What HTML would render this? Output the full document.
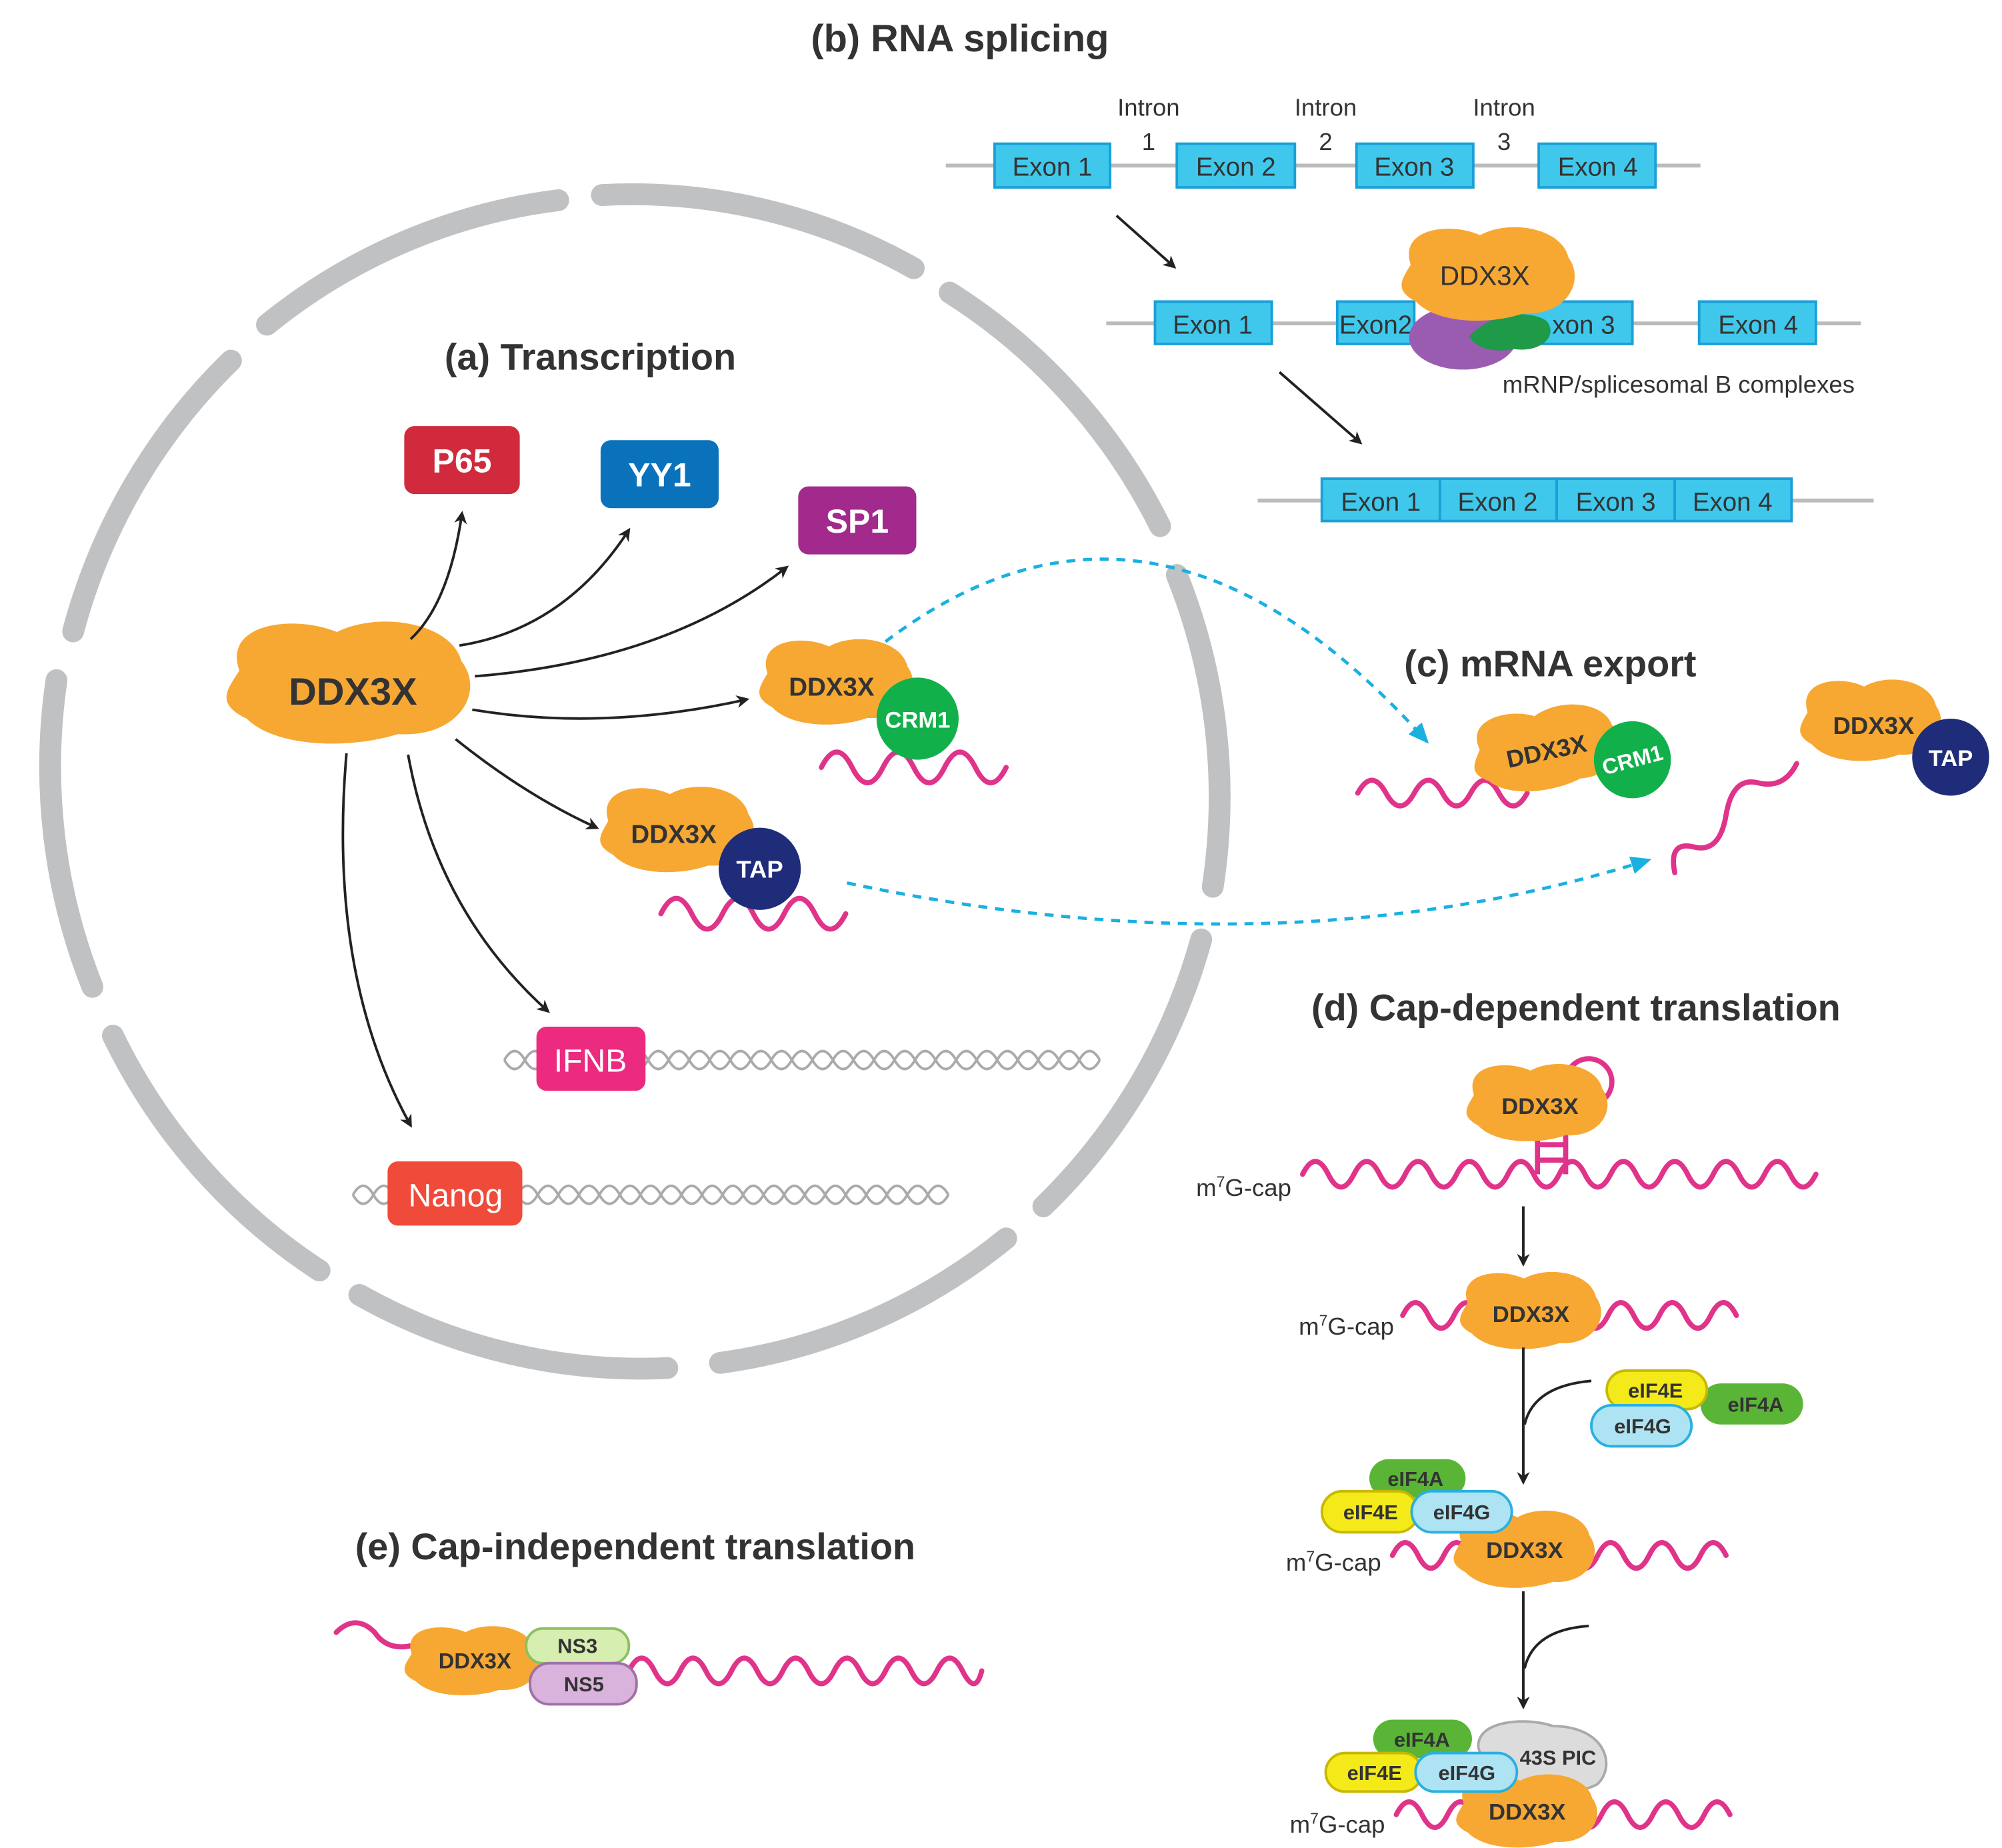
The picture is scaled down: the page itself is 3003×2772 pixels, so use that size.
<!DOCTYPE html>
<html><head><meta charset="utf-8"><style>
html,body{margin:0;padding:0;background:#fff}
svg{display:block}
text{font-family:"Liberation Sans",sans-serif}
</style></head><body>
<svg width="3003" height="2772" viewBox="0 0 1560 1440" xmlns="http://www.w3.org/2000/svg">
<defs>
<marker id="ah" markerWidth="10" markerHeight="10" refX="8" refY="5" orient="auto" markerUnits="userSpaceOnUse" viewBox="0 0 10 10"><path d="M0,0 L10,5 L0,10 L3,5Z" fill="#222"/></marker>
<marker id="bh" markerWidth="16" markerHeight="14" refX="14" refY="7" orient="auto" markerUnits="userSpaceOnUse" viewBox="0 0 16 14"><path d="M0,0 L16,7 L0,14 Z" fill="#1ab0e0"/></marker>
<path id="blob" d="M-45,-5 C-52,-30 -22,-34 -5,-25 C12,-36 42,-30 46,-10 C56,6 45,30 20,28 C0,36 -30,35 -42,20 C-55,12 -50,5 -45,-5Z" fill="#f7a833"/>
</defs>
<rect width="1560" height="1440" fill="#fff"/>

<!-- nucleus -->
<g fill="none" stroke="#bfc1c3" stroke-width="17" stroke-linecap="round">
<path d="M208,253 A452 458 0 0 1 435,156"/>
<path d="M469,152 A452 458 0 0 1 712,209"/>
<path d="M740,228 A452 458 0 0 1 904,410"/>
<path d="M917,448 A452 458 0 0 1 945,691"/>
<path d="M936,732 A452 458 0 0 1 813,940"/>
<path d="M784,965 A452 458 0 0 1 561,1062"/>
<path d="M520,1066 A452 458 0 0 1 280,1009"/>
<path d="M249,990 A452 458 0 0 1 88,807"/>
<path d="M72,769 A452 458 0 0 1 44,530"/>
<path d="M57,492 A452 458 0 0 1 180,281"/>
</g>

<!-- titles -->
<text x="748" y="40" font-size="30" font-weight="bold" text-anchor="middle" fill="#333">(b) RNA splicing</text>
<text x="460" y="288" font-size="29" font-weight="bold" text-anchor="middle" fill="#333">(a) Transcription</text>
<text x="1208" y="527" font-size="29" font-weight="bold" text-anchor="middle" fill="#333">(c) mRNA export</text>
<text x="1228" y="795" font-size="29" font-weight="bold" text-anchor="middle" fill="#333">(d) Cap-dependent translation</text>
<text x="495" y="1215" font-size="29" font-weight="bold" text-anchor="middle" fill="#333">(e) Cap-independent translation</text>

<!-- splicing -->
<g font-size="20" fill="#333" text-anchor="middle">
<line x1="737" y1="129" x2="1325" y2="129" stroke="#bbb" stroke-width="3"/>
<g fill="#3fc8ec" stroke="#1aa0d8" stroke-width="2">
<rect x="775" y="112" width="90" height="34"/><rect x="917" y="112" width="92" height="34"/><rect x="1057" y="112" width="91" height="34"/><rect x="1199" y="112" width="91" height="34"/>
</g>
<text x="820" y="137">Exon 1</text><text x="963" y="137">Exon 2</text><text x="1102" y="137">Exon 3</text><text x="1245" y="137">Exon 4</text>
<text x="895" y="90" font-size="19">Intron</text><text x="895" y="117" font-size="19">1</text>
<text x="1033" y="90" font-size="19">Intron</text><text x="1033" y="117" font-size="19">2</text>
<text x="1172" y="90" font-size="19">Intron</text><text x="1172" y="117" font-size="19">3</text>

<line x1="862" y1="252" x2="1450" y2="252" stroke="#bbb" stroke-width="3"/>
<g fill="#3fc8ec" stroke="#1aa0d8" stroke-width="2">
<rect x="900" y="235" width="91" height="33"/><rect x="1042" y="235" width="60" height="33"/><rect x="1180" y="235" width="92" height="33"/><rect x="1324" y="235" width="91" height="33"/>
</g>
<text x="945" y="260">Exon 1</text><text x="1072" y="260">Exon2</text><text x="1234" y="260">xon 3</text><text x="1370" y="260">Exon 4</text>
<ellipse cx="1140" cy="263" rx="42" ry="25" fill="#9a5cb0"/>
<path d="M1145,262 C1160,245 1190,240 1205,250 C1215,262 1200,275 1180,272 C1165,275 1150,272 1145,262Z" fill="#1e9a48"/>
<use href="#blob" transform="translate(1160,212) scale(1.35,1.15)"/>
<text x="1157" y="222" font-size="21">DDX3X</text>
<text x="1308" y="306" font-size="19">mRNP/splicesomal B complexes</text>

<line x1="980" y1="390" x2="1460" y2="390" stroke="#bbb" stroke-width="3"/>
<g fill="#3fc8ec" stroke="#1aa0d8" stroke-width="2">
<rect x="1030" y="373" width="92" height="33"/><rect x="1122" y="373" width="91" height="33"/><rect x="1213" y="373" width="92" height="33"/><rect x="1305" y="373" width="91" height="33"/>
</g>
<text x="1076" y="398">Exon 1</text><text x="1167" y="398">Exon 2</text><text x="1259" y="398">Exon 3</text><text x="1350" y="398">Exon 4</text>
</g>
<line x1="870" y1="168" x2="915" y2="208" stroke="#222" stroke-width="2" marker-end="url(#ah)"/>
<line x1="997" y1="290" x2="1060" y2="345" stroke="#222" stroke-width="2" marker-end="url(#ah)"/>

<!-- transcription -->
<rect x="315" y="332" width="90" height="53" rx="8" fill="#d02a3c"/><text x="360" y="368" font-size="26" font-weight="bold" fill="#fff" text-anchor="middle">P65</text>
<rect x="468" y="343" width="92" height="53" rx="8" fill="#0a72bb"/><text x="514" y="379" font-size="26" font-weight="bold" fill="#fff" text-anchor="middle">YY1</text>
<rect x="622" y="379" width="92" height="53" rx="8" fill="#a12a8c"/><text x="668" y="415" font-size="26" font-weight="bold" fill="#fff" text-anchor="middle">SP1</text>

<use href="#blob" transform="translate(272,530) scale(1.9,1.5)"/>
<text x="275" y="549" font-size="30" font-weight="bold" fill="#333" text-anchor="middle">DDX3X</text>

<g fill="none" stroke="#222" stroke-width="2" marker-end="url(#ah)">
<path d="M320,498 Q350,470 360,400"/>
<path d="M358,503 Q440,490 490,413"/>
<path d="M370,527 Q520,515 613,442"/>
<path d="M368,553 Q470,570 582,545"/>
<path d="M355,576 Q410,620 465,645"/>
<path d="M318,588 Q340,710 427,788"/>
<path d="M270,587 Q255,760 320,877"/>
</g>

<!-- dna + IFNB -->
<g fill="none" stroke="#aaa" stroke-width="2">
<path d="M393,826 q8,-14 16,0 t16,0 t16,0 t16,0 t16,0 t16,0 t16,0 t16,0 t16,0 t16,0 t16,0 t16,0 t16,0 t16,0 t16,0 t16,0 t16,0 t16,0 t16,0 t16,0 t16,0 t16,0 t16,0 t16,0 t16,0 t16,0 t16,0 t16,0 t16,0"/>
<path d="M393,826 q8,14 16,0 t16,0 t16,0 t16,0 t16,0 t16,0 t16,0 t16,0 t16,0 t16,0 t16,0 t16,0 t16,0 t16,0 t16,0 t16,0 t16,0 t16,0 t16,0 t16,0 t16,0 t16,0 t16,0 t16,0 t16,0 t16,0 t16,0 t16,0 t16,0"/>
<path d="M275,931 q8,-14 16,0 t16,0 t16,0 t16,0 t16,0 t16,0 t16,0 t16,0 t16,0 t16,0 t16,0 t16,0 t16,0 t16,0 t16,0 t16,0 t16,0 t16,0 t16,0 t16,0 t16,0 t16,0 t16,0 t16,0 t16,0 t16,0 t16,0 t16,0 t16,0"/>
<path d="M275,931 q8,14 16,0 t16,0 t16,0 t16,0 t16,0 t16,0 t16,0 t16,0 t16,0 t16,0 t16,0 t16,0 t16,0 t16,0 t16,0 t16,0 t16,0 t16,0 t16,0 t16,0 t16,0 t16,0 t16,0 t16,0 t16,0 t16,0 t16,0 t16,0 t16,0"/>
</g>
<rect x="418" y="800" width="85" height="50" rx="8" fill="#ec2a7f"/><text x="460" y="835" font-size="25" fill="#fff" text-anchor="middle">IFNB</text>
<rect x="302" y="905" width="105" height="50" rx="8" fill="#f04a3a"/><text x="355" y="940" font-size="25" fill="#fff" text-anchor="middle">Nanog</text>

<!-- pink waves -->
<g fill="none" stroke="#e0338a" stroke-width="4" stroke-linecap="round">
<path d="M640,598 q12,-24 24,0 t24,0 t24,0 t24,0 t24,0 t24,0"/>
<path d="M515,712 q12,-24 24,0 t24,0 t24,0 t24,0 t24,0 t24,0"/>
<path d="M1058,618 q11,-20 22,0 t22,0 t22,0 t22,0 t22,0 t22,0"/>
<path d="M1305,680 q-5,-25 15,-20 t25,-25 t25,-25 t30,-15"/>
<path d="M1015,915 q10,-20 20,0 t20,0 t20,0 t20,0 t20,0 t20,0 t20,0 t20,0 t20,0 t20,0 t20,0 t20,0 t20,0 t20,0 t20,0 t20,0 t20,0 t20,0 t20,0 t20,0"/>
<path d="M1093,1025 q10,-20 20,0 t20,0 t20,0 t20,0 t20,0 t20,0 t20,0 t20,0 t20,0 t20,0 t20,0 t20,0 t20,0"/>
<path d="M1085,1212 q10,-20 20,0 t20,0 t20,0 t20,0 t20,0 t20,0 t20,0 t20,0 t20,0 t20,0 t20,0 t20,0 t20,0"/>
<path d="M1088,1414 q10,-20 20,0 t20,0 t20,0 t20,0 t20,0 t20,0 t20,0 t20,0 t20,0 t20,0 t20,0 t20,0 t20,0"/>
<path d="M262,1272 q15,-15 30,0 q10,15 30,10"/>
<path d="M490,1302 q10,-20 20,0 t20,0 t20,0 t20,0 t20,0 t20,0 t20,0 t20,0 t20,0 t20,0 t20,0 t20,0 t20,0 t15,0"/>
</g>

<!-- complexes in nucleus -->
<use href="#blob" transform="translate(652,530) scale(1.2,1.05)"/>
<text x="648" y="542" font-size="20" font-weight="bold" fill="#333" text-anchor="middle">DDX3X</text>
<circle cx="715" cy="560" r="32" fill="#12b04b"/><text x="715" y="567" font-size="18" font-weight="bold" fill="#fff" text-anchor="middle">CRM1</text>
<use href="#blob" transform="translate(528,645) scale(1.2,1.05)"/>
<text x="525" y="657" font-size="20" font-weight="bold" fill="#333" text-anchor="middle">DDX3X</text>
<circle cx="592" cy="677" r="32" fill="#1e2c7a"/><text x="592" y="684" font-size="19" font-weight="bold" fill="#fff" text-anchor="middle">TAP</text>

<!-- export -->
<use href="#blob" transform="translate(1205,582) rotate(-8) scale(1.15,1)"/>
<text x="1205" y="592" font-size="19" font-weight="bold" fill="#333" text-anchor="middle" transform="rotate(-12 1205 585)">DDX3X</text>
<circle cx="1272" cy="592" r="30" fill="#12b04b"/><text x="1272" y="598" font-size="17" font-weight="bold" fill="#fff" text-anchor="middle" transform="rotate(-15 1272 592)">CRM1</text>
<use href="#blob" transform="translate(1458,560) scale(1.1,1)"/>
<text x="1460" y="572" font-size="19" font-weight="bold" fill="#333" text-anchor="middle">DDX3X</text>
<circle cx="1520" cy="590" r="30" fill="#1e2c7a"/><text x="1520" y="597" font-size="18" font-weight="bold" fill="#fff" text-anchor="middle">TAP</text>

<g fill="none" stroke="#1ab0e0" stroke-width="2.5" stroke-dasharray="7 6">
<path d="M690,500 Q900,340 1112,578" marker-end="url(#bh)"/>
<path d="M660,688 Q1000,760 1285,670" marker-end="url(#bh)"/>
</g>

<!-- cap-dependent -->
<g font-size="19" fill="#333">
<text x="932" y="932">m<tspan font-size="12" dy="-7">7</tspan><tspan dy="7">G-cap</tspan></text>
<text x="1012" y="1040">m<tspan font-size="12" dy="-7">7</tspan><tspan dy="7">G-cap</tspan></text>
<text x="1002" y="1224">m<tspan font-size="12" dy="-7">7</tspan><tspan dy="7">G-cap</tspan></text>
<text x="1005" y="1428">m<tspan font-size="12" dy="-7">7</tspan><tspan dy="7">G-cap</tspan></text>
</g>
<g stroke="#e0338a" stroke-width="4" fill="none">
<line x1="1198" y1="880" x2="1198" y2="915"/><line x1="1220" y1="880" x2="1220" y2="915"/>
<line x1="1198" y1="892" x2="1220" y2="892"/><line x1="1198" y1="904" x2="1220" y2="904"/>
<circle cx="1238" cy="843" r="18"/>
</g>
<use href="#blob" transform="translate(1198,858) scale(1.1,0.95)"/>
<text x="1200" y="868" font-size="18" font-weight="bold" fill="#333" text-anchor="middle">DDX3X</text>
<line x1="1187" y1="940" x2="1187" y2="985" stroke="#222" stroke-width="2" marker-end="url(#ah)"/>
<use href="#blob" transform="translate(1193,1020) scale(1.1,0.95)"/>
<text x="1193" y="1030" font-size="18" font-weight="bold" fill="#333" text-anchor="middle">DDX3X</text>
<line x1="1187" y1="1050" x2="1187" y2="1155" stroke="#222" stroke-width="2" marker-end="url(#ah)"/>
<path d="M1240,1076 Q1195,1080 1188,1110" fill="none" stroke="#222" stroke-width="2"/>
<line x1="1187" y1="1240" x2="1187" y2="1330" stroke="#222" stroke-width="2" marker-end="url(#ah)"/>
<path d="M1238,1267 Q1195,1270 1188,1300" fill="none" stroke="#222" stroke-width="2"/>

<g font-size="16" font-weight="bold" fill="#333" text-anchor="middle" stroke-width="2">
<rect x="1325" y="1078" width="80" height="32" rx="16" fill="#5ab536"/><text x="1368" y="1100">eIF4A</text>
<rect x="1252" y="1068" width="78" height="30" rx="15" fill="#f4ea1a" stroke="#c8b800"/><text x="1290" y="1089">eIF4E</text>
<rect x="1240" y="1095" width="78" height="32" rx="16" fill="#aee3f3" stroke="#28b0e0"/><text x="1280" y="1117">eIF4G</text>

<use href="#blob" transform="translate(1188,1206) scale(1.1,0.95)"/>
<text x="1188" y="1214" font-size="18">DDX3X</text>
<rect x="1067" y="1137" width="75" height="30" rx="15" fill="#5ab536"/><text x="1103" y="1158">eIF4A</text>
<rect x="1030" y="1162" width="75" height="32" rx="16" fill="#f4ea1a" stroke="#c8b800"/><text x="1068" y="1184">eIF4E</text>
<rect x="1100" y="1162" width="78" height="32" rx="16" fill="#aee3f3" stroke="#28b0e0"/><text x="1139" y="1184">eIF4G</text>

<path d="M1152,1362 C1150,1340 1190,1338 1210,1345 C1250,1345 1260,1375 1245,1390 C1230,1400 1175,1398 1160,1385Z" fill="#dcdcdc" stroke="#aaa"/>
<text x="1214" y="1375">43S PIC</text>
<use href="#blob" transform="translate(1190,1410) scale(1.1,0.9)"/>
<text x="1190" y="1418" font-size="18">DDX3X</text>
<rect x="1070" y="1340" width="77" height="30" rx="15" fill="#5ab536"/><text x="1108" y="1361">eIF4A</text>
<rect x="1033" y="1366" width="75" height="30" rx="15" fill="#f4ea1a" stroke="#c8b800"/><text x="1071" y="1387">eIF4E</text>
<rect x="1103" y="1366" width="79" height="30" rx="15" fill="#aee3f3" stroke="#28b0e0"/><text x="1143" y="1387">eIF4G</text>

<!-- cap-independent -->
<use href="#blob" transform="translate(368,1293) scale(1.05,0.85)"/>
<text x="370" y="1300" font-size="17">DDX3X</text>
<rect x="410" y="1269" width="80" height="27" rx="13" fill="#d6eeb0" stroke="#8cc060"/><text x="450" y="1288">NS3</text>
<rect x="413" y="1296" width="83" height="32" rx="15" fill="#d9b3dc" stroke="#a070a8"/><text x="455" y="1318">NS5</text>
</g>
</svg>
</body></html>
